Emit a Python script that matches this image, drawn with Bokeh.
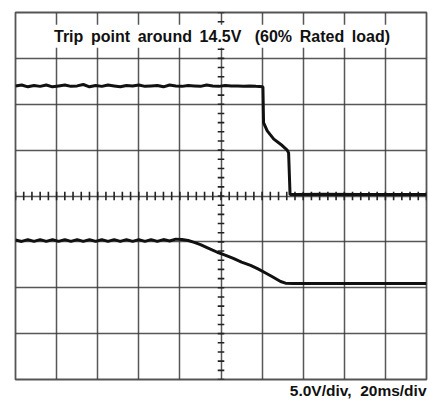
from bokeh.plotting import figure
from bokeh.models import Range1d, Grid, FixedTicker, Label, Title
from bokeh.embed import file_html
from bokeh.resources import INLINE
import numpy as np

# ---- data (time in ms, voltage in V; 20 ms/div, 5 V/div) ----
x_ticks = [0, 20, 40, 60, 80, 100, 120, 140, 160, 180, 200]
y_ticks = [-20, -15, -10, -5, 0, 5, 10, 15, 20]

# upper trace (output voltage)
t_upper = [0, 3, 6, 9, 12, 15, 18, 21, 24, 27, 30, 33, 36, 39, 42, 45, 48, 51, 54, 57,
           60, 63, 66, 69, 72, 75, 78, 81, 84, 87, 90, 93, 96, 99, 102, 105, 108, 111,
           114, 117, 120.4, 120.7, 122.5, 125.7, 129.8, 132.2, 132.9, 133.6, 136, 150, 170, 200]
v_upper = [12.0, 12.1, 11.9, 12.05, 11.95, 12.1, 11.9, 12.0, 12.1, 11.95, 12.0, 12.15,
           11.9, 12.05, 11.95, 12.1, 12.0, 11.9, 12.05, 12.0, 12.1, 11.95, 12.0, 12.05,
           11.9, 12.1, 12.0, 11.95, 12.05, 12.0, 11.95, 12.1, 12.0, 11.95, 12.05, 12.0,
           12.0, 11.95, 12.0, 11.95, 11.9, 8.0, 7.1, 6.2, 5.5, 5.0, 4.7, 0.15, 0.15,
           0.2, 0.15, 0.15]

# lower trace (input voltage)
t_lower = [0, 3, 6, 9, 12, 15, 18, 21, 24, 27, 30, 33, 36, 39, 42, 45, 48, 51, 54, 57,
           60, 63, 66, 69, 72, 75, 78, 81, 84, 87, 90, 94, 98.2, 102, 106, 110, 114.4,
           118, 121.7, 125, 129, 131.4, 135, 150, 170, 200]
v_lower = [-4.8, -4.95, -4.75, -4.95, -4.75, -4.95, -4.75, -4.95, -4.75, -4.95, -4.75,
           -4.95, -4.75, -4.95, -4.75, -4.95, -4.75, -4.95, -4.75, -4.95, -4.75, -4.95,
           -4.75, -4.95, -4.75, -4.9, -4.7, -4.75, -4.85, -5.05, -5.3, -5.7, -6.13,
           -6.45, -6.8, -7.2, -7.57, -7.95, -8.39, -8.8, -9.32, -9.5, -9.55, -9.55,
           -9.55, -9.55]

gap = " \u2009"
title_text = "Trip" + gap + "point" + gap + "around" + gap + "14.5V \u00a0 (60%" + gap + "Rated" + gap + "load)"
scale_text = "5.0V/div,\u00a0 20ms/div"

# ---- figure ----
p = figure(width=430, height=400, output_backend="svg", toolbar_location=None,
           x_range=Range1d(0, 200), y_range=Range1d(-20, 20),
           x_axis_location=None, y_axis_location=None,
           min_border_left=15, min_border_top=12, min_border_right=4, min_border_bottom=21)
p.center = [r for r in p.center if not isinstance(r, Grid)]
p.background_fill_color = "white"
p.border_fill_color = "white"
p.outline_line_color = "#555555"
p.outline_line_width = 1.8

grid_color = "#3a3a3a"
gx = Grid(dimension=0, ticker=FixedTicker(ticks=x_ticks), grid_line_color=grid_color,
          grid_line_width=1.5, grid_line_alpha=0.85)
gy = Grid(dimension=1, ticker=FixedTicker(ticks=y_ticks), grid_line_color=grid_color,
          grid_line_width=1.5, grid_line_alpha=0.85)
p.add_layout(gx, "center")
p.add_layout(gy, "center")

# minor ticks along the centre graticule lines (5 per division)
x_minor = np.arange(x_ticks[0], x_ticks[-1] + 0.1, (x_ticks[1] - x_ticks[0]) / 5)
y_minor = np.arange(y_ticks[0], y_ticks[-1] + 0.1, (y_ticks[1] - y_ticks[0]) / 5)
xc = x_ticks[len(x_ticks) // 2]
yc = y_ticks[len(y_ticks) // 2]
p.segment(x0=x_minor, y0=yc - 0.45, x1=x_minor, y1=yc + 0.45,
          line_color="#222222", line_width=1.6)
p.segment(x0=xc - 1.6, y0=y_minor, x1=xc + 1.6, y1=y_minor,
          line_color="#222222", line_width=1.6)

# traces
p.line(t_upper, v_upper, line_color="#111111", line_width=3)
p.line(t_lower, v_lower, line_color="#111111", line_width=3)

# texts
p.add_layout(Label(x=100.5, y=17.4, text=title_text, text_align="center",
                   text_baseline="middle", text_font="Liberation Sans",
                   text_font_style="bold", text_font_size="16px", text_color="#111111",
                   background_fill_color="white", padding=3))
p.add_layout(Title(text=scale_text, align="right", text_font="Liberation Sans",
                   text_font_style="bold", text_font_size="15.5px", text_color="#111111",
                   standoff=0, offset=0), "below")

open("out.html", "w").write(file_html(p, INLINE))
